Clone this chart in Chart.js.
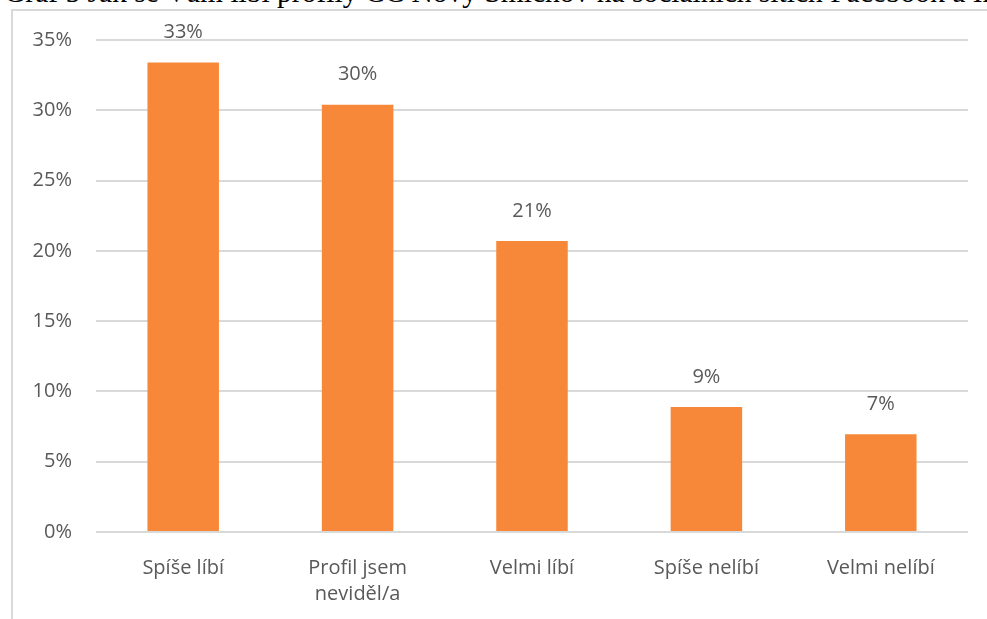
<!DOCTYPE html>
<html>
<head>
<meta charset="utf-8">
<script src="https://cdn.jsdelivr.net/npm/chart.js@4/dist/chart.umd.min.js"></script>
<style>
  html, body { margin: 0; padding: 0; background: #fff; overflow: hidden; }
  body { width: 987px; height: 619px; position: relative; }
  #title { position: absolute; left: 4px; top: -24px; font-family: "Liberation Serif", "DejaVu Serif", serif;
           font-size: 29.5px; color: #000; white-space: nowrap; line-height: 32px; }
  #frame { position: absolute; left: 11px; top: 9px; width: 990px; height: 620px;
           border-left: 2px solid #d9d9d9; border-top: 2px solid #d9d9d9; }
  #wrap { position: absolute; left: 0; top: 0; width: 987px; height: 619px; }
</style>
</head>
<body>
<div id="frame"></div>
<div id="title">Graf 5 Jak se Vám líbí profily CC Nový Smíchov na sociálních sítích Facebook a Instagram</div>
<div id="wrap"><canvas id="chart"></canvas></div>
<script>
// hodnoty (%)
const categories = [['Spíše líbí'], ['Profil jsem', 'neviděl/a'], ['Velmi líbí'], ['Spíše nelíbí'], ['Velmi nelíbí']];
const values = [33.4, 30.4, 20.7, 8.9, 6.95];
const yTicks = [0, 5, 10, 15, 20, 25, 30, 35];

const txt = '#595959';
const font = "'Open Sans', 'Noto Sans', sans-serif";

const barLabels = {
  id: 'barLabels',
  afterDatasetsDraw(chart) {
    const ctx = chart.ctx;
    const meta = chart.getDatasetMeta(0);
    ctx.save();
    ctx.fillStyle = txt;
    ctx.font = '20px ' + font;
    ctx.textAlign = 'center';
    ctx.textBaseline = 'middle';
    meta.data.forEach((bar, i) => {
      ctx.fillText(Math.round(values[i]) + '%', bar.x, bar.y - 30);
    });
    ctx.restore();
  }
};

new Chart(document.getElementById('chart'), {
  type: 'bar',
  data: {
    labels: categories,
    datasets: [{
      data: values,
      backgroundColor: '#F7883A',
      categoryPercentage: 1,
      barPercentage: 0.41
    }]
  },
  options: {
    responsive: true,
    maintainAspectRatio: false,
    animation: false,
    layout: { padding: { top: 40, right: 19, left: 0, bottom: 0 } },
    plugins: { legend: { display: false }, tooltip: { enabled: false } },
    scales: {
      x: {
        grid: { display: false },
        border: { display: false },
        ticks: { color: txt, font: { family: font, size: 20, lineHeight: 1.3 }, padding: 15, maxRotation: 0 },
        afterFit(s) { s.height = 87; }
      },
      y: {
        min: 0, max: 35,
        afterBuildTicks(s) { s.ticks = yTicks.map(v => ({ value: v })); },
        grid: { color: '#d9d9d9', lineWidth: 2, drawTicks: false },
        border: { display: false },
        ticks: { color: txt, font: { family: font, size: 20 }, padding: 24, callback: v => v + '%' },
        afterFit(s) { s.width = 96; }
      }
    }
  },
  plugins: [barLabels]
});
</script>
</body>
</html>
